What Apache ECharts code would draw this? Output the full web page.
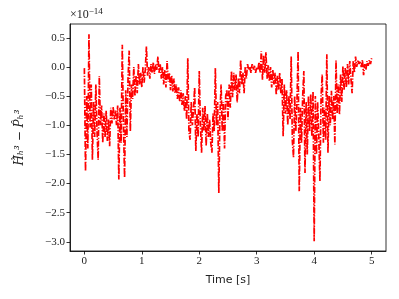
<!DOCTYPE html>
<html><head><meta charset="utf-8">
<script src="https://cdn.jsdelivr.net/npm/echarts@6/dist/echarts.min.js"></script>
<style>html,body{margin:0;padding:0;background:#fff}#c{width:399px;height:299px}</style>
</head><body><div id="c"></div>
<script>
// sampling step of the signal (s)
const dt = 0.02;
// signal values (×1e-14), one per sample
const values = [
 -0.02,-1.79,-0.5,-1.4,0.56,-1.04,-0.3,-1.59,-0.6,-1.2,
 -0.3,-1.1,-1.59,-0.16,-1.0,-0.66,-1.3,-0.8,-1.2,-0.75,
 -1.27,-0.9,-1.36,-0.7,-0.97,-0.68,-0.9,-0.75,-1.0,-0.66,
 -1.93,-0.7,-1.3,0.38,-1.0,-1.9,-0.4,-1.2,-0.2,0.28,
 -1.1,-0.3,-0.55,0.0,-0.5,-0.15,-0.45,0.05,-0.3,-0.1,
 -0.35,0.0,-0.27,-0.05,0.35,-0.15,0.0,-0.2,0.05,-0.1,
 0.08,-0.12,0.05,-0.05,0.18,-0.1,0.05,-0.2,0.0,-0.3,
 -0.05,-0.35,0.1,-0.25,-0.1,-0.4,-0.15,-0.42,-0.2,-0.45,
 -0.3,-0.55,-0.35,-0.6,-0.4,-0.65,-0.45,-0.75,-0.5,-0.9,
 0.15,-1.1,-1.25,-0.6,-1.0,-0.7,-0.35,-1.44,-0.8,-1.2,
 -0.07,-1.0,-1.47,-0.7,-1.1,-0.67,-1.35,-0.8,-1.2,-0.9,
 -1.3,-1.47,-0.8,-1.1,-0.02,-1.0,-0.6,-2.16,-0.8,-0.3,
 -1.1,-0.6,-1.4,-0.5,-0.39,-0.9,-0.3,-0.7,-0.07,-0.52,
 -0.1,-0.4,-0.13,-0.61,-0.2,-0.45,0.12,-0.3,-0.1,-0.45,
 0.0,-0.2,0.05,-0.05,0.0,-0.1,0.05,-0.05,0.02,-0.1,
 0.0,-0.05,0.08,-0.1,0.27,-0.22,0.2,-0.1,0.25,-0.2,
 0.03,-0.25,0.0,-0.35,-0.05,-0.3,-0.1,-0.48,-0.15,-0.4,
 -0.1,-0.45,-0.2,-1.19,-0.3,-0.8,-0.4,-1.0,-0.5,-0.9,
 0.18,-1.27,-1.55,-0.5,-1.1,-0.6,0.27,-2.13,-0.7,-1.3,
 -0.5,-0.07,-1.82,-0.6,-1.5,-0.5,-1.1,-0.47,-1.19,-0.42,
 -2.99,-0.5,-1.5,-0.6,-1.2,-1.96,-0.5,-0.13,-1.3,-0.7,
 -1.25,0.22,-1.47,-0.5,-1.0,-0.41,-0.9,-0.5,-1.33,0.11,
 -0.8,-0.3,-0.82,-0.13,-0.6,0.01,-0.4,-0.02,-0.35,0.05,
 -0.3,0.1,-0.2,-0.45,0.1,-0.1,0.18,0.0,0.12,0.05,
 0.1,0.0,0.12,-0.14,0.05,-0.05,0.1,0.02,0.12,0.05,
 0.15
];
const xTicks = [0, 1, 2, 3, 4, 5];
const yTicks = [-3.0, -2.5, -2.0, -1.5, -1.0, -0.5, 0.0, 0.5];

const series = values.map((v, i) => [+(i * dt).toFixed(2), v]);
const serif = 'Liberation Serif';
const fmt = v => (Math.abs(v) < 1e-9 ? '0' : String(v)).replace('-', '\u2212');

const chart = echarts.init(document.getElementById('c'), null, {renderer: 'canvas'});
chart.setOption({
  animation: false,
  grid: {left: 70, right: 13, top: 24, bottom: 48, show: true, borderColor: '#000', borderWidth: 0.8},
  xAxis: {
    type: 'value', min: -0.25, max: 5.25,
    axisLine: {show: true, onZero: false, lineStyle: {color: '#000', width: 0.8}},
    axisTick: {show: true, length: 3.5, lineStyle: {color: '#000', width: 0.8}, customValues: xTicks},
    axisLabel: {color: '#222', fontFamily: serif, fontSize: 11, margin: 5, customValues: xTicks,
      formatter: v => fmt(v)},
    splitLine: {show: false},
    name: 'Time [s]', nameLocation: 'middle', nameGap: 24,
    nameTextStyle: {color: '#222', fontFamily: 'DejaVu Sans', fontSize: 11}
  },
  yAxis: {
    type: 'value', min: -3.157, max: 0.737,
    axisLine: {show: true, onZero: false, lineStyle: {color: '#000', width: 0.8}},
    axisTick: {show: true, length: 3.5, lineStyle: {color: '#000', width: 0.8}, customValues: yTicks},
    axisLabel: {color: '#222', fontFamily: serif, fontSize: 11, margin: 5, customValues: yTicks,
      formatter: v => v.toFixed(1).replace('-', '\u2212')},
    splitLine: {show: false},
    name: 'H\u0307\u0302\u2095\u00b3 \u2212 P\u0302\u2095\u00b3', nameLocation: 'middle', nameGap: 44, nameRotate: 90,
    nameTextStyle: {color: '#222', fontFamily: 'DejaVu Serif', fontSize: 12, fontStyle: 'italic'}
  },
  graphic: [{
    type: 'text', left: 70, top: 7,
    style: {
      text: '\u00d710{s|\u221214}',
      fill: '#222', font: '12px "Liberation Serif"',
      rich: {s: {fontSize: 9, fontFamily: serif, fill: '#222', verticalAlign: 'top', padding: [0, 0, 6, 0]}}
    }
  }],
  series: [{
    type: 'line', data: series, showSymbol: false, symbol: 'none',
    lineStyle: {color: '#ff0000', width: 1.7, type: [6, 1.6, 1.2, 1.6]},
    clip: true
  }]
});
</script>
</body></html>
